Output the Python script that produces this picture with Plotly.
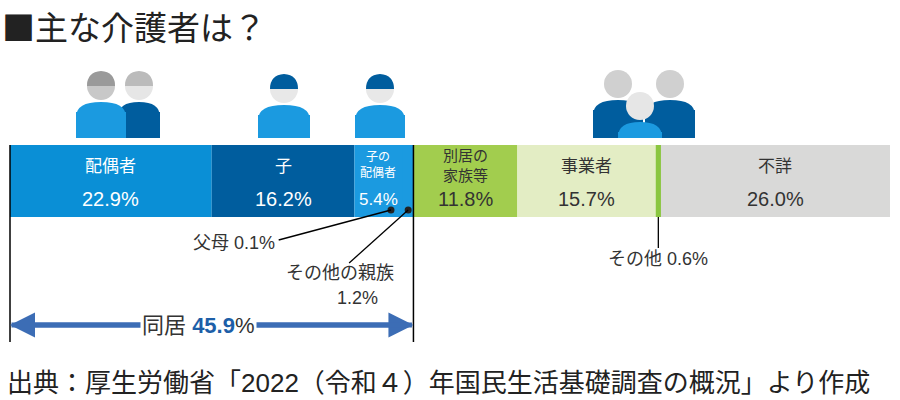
import plotly.graph_objects as go

names = ["配偶者", "子", "子の<br>配偶者", "父母", "その他の親族", "別居の<br>家族等", "事業者", "その他", "不詳"]
values = [22.9, 16.2, 5.4, 0.1, 1.2, 11.8, 15.7, 0.6, 26.0]
colors = ["#0a8fd6", "#005d9e", "#1b9ae0", "#1b9ae0", "#1b9ae0", "#a2cd4e", "#e3edc4", "#8ac63f", "#d9d9d8"]
labeled = [0, 1, 2, 5, 6, 8]
font = "Liberation Sans, Noto Sans CJK JP"

total = sum(values)
X0, X1 = 10, 890

fig = go.Figure()
base = 0
centers = []
for n, v, c in zip(names, values, colors):
    fig.add_trace(go.Bar(x=[v], y=[181], base=[base], width=72, orientation="h",
                         marker=dict(color=c, line=dict(width=0)), hoverinfo="skip", showlegend=False))
    centers.append(base + v / 2)
    base += v

fig.update_layout(width=900, height=400, margin=dict(l=0, r=0, t=0, b=0),
                  plot_bgcolor="white", paper_bgcolor="white", barmode="overlay",
                  font=dict(family=font))
fig.update_xaxes(range=[-total * X0 / (X1 - X0), total * (900 - X0) / (X1 - X0)], visible=False)
fig.update_yaxes(range=[400, 0], visible=False)

ann = []
for i in labeled:
    small = (i == 2)
    two = "<br>" in names[i]
    dark = i >= 5
    col = "#333333" if dark else "white"
    ann.append(dict(x=centers[i], y=(165 if two else 166), text=names[i], showarrow=False,
                    font=dict(size=12 if small else (15 if two else 17), color=col),
                    yanchor="middle"))
    ann.append(dict(x=centers[i], y=199, text=f"{values[i]}%", showarrow=False,
                    font=dict(size=17 if small else 20, color=col)))

together = sum(values[:5])
fig.add_shape(type="line", x0=0, x1=0, y0=145, y1=342, line=dict(color="black", width=1.5))
fig.add_shape(type="line", x0=together, x1=together, y0=145, y1=342, line=dict(color="black", width=1.5))
ann.append(dict(x=together, y=325, ax=0, ay=325, xref="x", yref="y", axref="x", ayref="y",
                showarrow=True, arrowhead=2, arrowsize=1, arrowwidth=5, arrowcolor="#3c6db5", text=""))
ann.append(dict(x=0, y=325, ax=together, ay=325, xref="x", yref="y", axref="x", ayref="y",
                showarrow=True, arrowhead=2, arrowsize=1, arrowwidth=5, arrowcolor="#3c6db5", text=""))
ann.append(dict(x=together / 2 - 1.5, y=325, text="同居 <b><span style='color:#1d5fa8'>45.9</span></b>%",
                showarrow=False, bgcolor="white", font=dict(size=22, color="#333")))
p_parent = sum(values[:3]) + 0.05 - 1.3
p_other = sum(values[:4]) + 0.6
p_misc = sum(values[:7]) + 0.3
fig.add_trace(go.Scatter(x=[p_parent, p_other], y=[210, 210], mode="markers",
                         marker=dict(color="#222", size=7), hoverinfo="skip", showlegend=False))
fig.add_shape(type="line", x0=p_parent, y0=210, x1=30.5, y1=240, line=dict(color="black", width=1.3))
fig.add_shape(type="line", x0=p_other, y0=210, x1=38.5, y1=263, line=dict(color="black", width=1.3))
fig.add_shape(type="line", x0=p_misc, y0=217, x1=p_misc, y1=248, line=dict(color="black", width=1.3))
ann.append(dict(x=30.3, y=243, text="父母 0.1%", showarrow=False, xanchor="right", font=dict(size=18, color="#333")))
ann.append(dict(x=37.5, y=273, text="その他の親族", showarrow=False, font=dict(size=18, color="#333")))
ann.append(dict(x=39.5, y=298, text="1.2%", showarrow=False, font=dict(size=18, color="#333")))
ann.append(dict(x=p_misc, y=259, text="その他 0.6%", showarrow=False, font=dict(size=18, color="#333")))
fig.add_annotation(xref="paper", yref="paper", x=0.0, y=1.0, xanchor="left", yanchor="top",
                   text="■主な介護者は？", showarrow=False,
                   font=dict(size=33, color="#222", family="Noto Sans CJK JP"))
fig.add_annotation(xref="paper", yref="paper", x=0.005, y=0.0, xanchor="left", yanchor="bottom",
                   text="出典：厚生労働省「2022（令和４）年国民生活基礎調査の概況」より作成",
                   showarrow=False, font=dict(size=26, color="#222"))
for a in ann:
    fig.add_annotation(**a)

def person(cx, top, w, body, head, hair=None):
    fig.add_shape(type="rect", xref="paper", yref="paper", x0=(cx - w / 2) / 900, x1=(cx + w / 2) / 900,
                  y0=1 - 138 / 400, y1=1 - (top + 40) / 400, fillcolor=body, line=dict(width=0))
    fig.add_shape(type="path", xref="paper", yref="paper",
                  path=f"M {(cx-w/2)/900},{1-(top+45)/400} Q {(cx-w/2)/900},{1-(top+30)/400} {cx/900},{1-(top+30)/400} Q {(cx+w/2)/900},{1-(top+30)/400} {(cx+w/2)/900},{1-(top+45)/400} Z",
                  fillcolor=body, line=dict(width=0))
    r = 14
    fig.add_shape(type="circle", xref="paper", yref="paper", x0=(cx - r) / 900, x1=(cx + r) / 900,
                  y0=1 - (top + 28) / 400, y1=1 - top / 400, fillcolor=head, line=dict(width=0))
    if hair:
        fig.add_shape(type="path", xref="paper", yref="paper",
                      path=f"M {(cx-r)/900},{1-(top+14)/400} Q {(cx-r)/900},{1-top/400} {cx/900},{1-(top-1)/400} Q {(cx+r)/900},{1-top/400} {(cx+r)/900},{1-(top+14)/400} Z",
                      fillcolor=hair, line=dict(width=0))

person(139, 72, 42, "#005d9e", "#e6e6e6", "#bbbbbb")
person(101, 72, 50, "#1b9ae0", "#c8c8c8", "#9a9a9a")
person(284, 75, 52, "#1b9ae0", "#e8e8e8", "#005d9e")
person(380, 75, 50, "#1b9ae0", "#e8e8e8", "#005d9e")
person(618, 70, 50, "#005d9e", "#d0d0d0", None)
person(670, 70, 50, "#005d9e", "#d0d0d0", None)
person(640, 92, 44, "#1b9ae0", "#e6e6e6", None)

fig.write_html("out.html", config={"displayModeBar": False},
               post_script="document.body.style.margin='0';")
